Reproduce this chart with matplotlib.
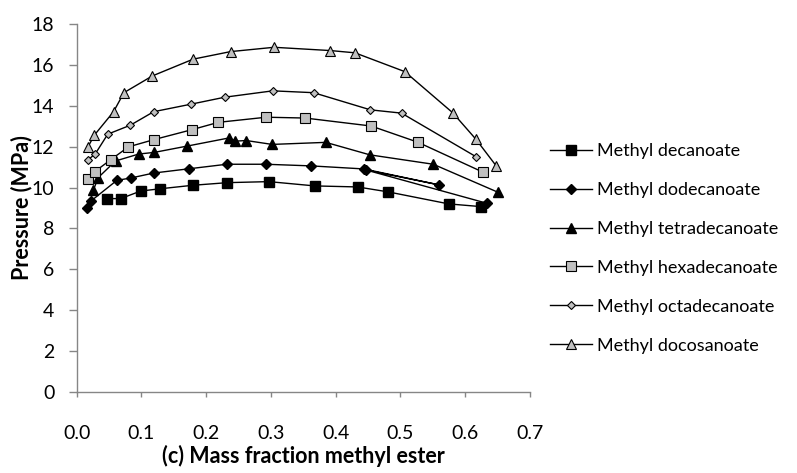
import matplotlib.pyplot as plt

plt.rcParams['font.family'] = ['Lato', 'DejaVu Sans']

# mass fraction / pressure (MPa) per ester
x_c10 = [0.047, 0.068, 0.099, 0.129, 0.179, 0.233, 0.297, 0.368, 0.434, 0.481, 0.575, 0.624]
p_c10 = [9.46, 9.46, 9.83, 9.94, 10.11, 10.24, 10.29, 10.08, 10.03, 9.79, 9.20, 9.07]

x_c12 = [0.016, 0.022, 0.062, 0.084, 0.119, 0.174, 0.232, 0.292, 0.362, 0.444, 0.560, 0.447, 0.634]
p_c12 = [9.01, 9.34, 10.35, 10.47, 10.71, 10.92, 11.14, 11.14, 11.06, 10.91, 10.13, 10.86, 9.23]

x_c14 = [0.026, 0.033, 0.060, 0.096, 0.120, 0.171, 0.236, 0.245, 0.262, 0.302, 0.385, 0.453, 0.551, 0.651]
p_c14 = [9.88, 10.48, 11.30, 11.64, 11.72, 12.03, 12.43, 12.27, 12.30, 12.11, 12.21, 11.60, 11.14, 9.77]

x_c16 = [0.018, 0.028, 0.053, 0.080, 0.120, 0.178, 0.219, 0.293, 0.353, 0.455, 0.527, 0.628]
p_c16 = [10.41, 10.78, 11.37, 11.99, 12.35, 12.83, 13.19, 13.44, 13.40, 13.01, 12.22, 10.75]

x_c18 = [0.0175, 0.029, 0.048, 0.083, 0.119, 0.177, 0.229, 0.303, 0.366, 0.454, 0.502, 0.617]
p_c18 = [11.35, 11.66, 12.61, 13.05, 13.71, 14.08, 14.42, 14.73, 14.64, 13.80, 13.64, 11.51]

x_c22 = [0.0175, 0.0275, 0.057, 0.073, 0.117, 0.180, 0.238, 0.305, 0.392, 0.430, 0.507, 0.581, 0.617, 0.648]
p_c22 = [11.99, 12.57, 13.71, 14.64, 15.46, 16.28, 16.65, 16.86, 16.70, 16.59, 15.67, 13.66, 12.36, 11.07]

gray = '#C0C0C0'

fig = plt.figure(figsize=(7.97, 4.73), dpi=100)
ax = fig.add_axes([0.0962, 0.1712, 0.5684, 0.7781])

ax.plot(x_c10, p_c10, color='black', lw=1, marker='s', ms=6.5, mfc='black', mec='black', label='Methyl decanoate')
ax.plot(x_c12, p_c12, color='black', lw=1, marker='D', ms=5.3, mfc='black', mec='black', label='Methyl dodecanoate')
ax.plot(x_c14, p_c14, color='black', lw=1, marker='^', ms=7.5, mfc='black', mec='black', label='Methyl tetradecanoate')
ax.plot(x_c16, p_c16, color='black', lw=1, marker='s', ms=7, mfc=gray, mec='black', mew=0.8, label='Methyl hexadecanoate')
ax.plot(x_c18, p_c18, color='black', lw=1, marker='D', ms=4.3, mfc=gray, mec='black', mew=0.8, label='Methyl octadecanoate')
ax.plot(x_c22, p_c22, color='black', lw=1, marker='^', ms=7.5, mfc=gray, mec='black', mew=0.8, label='Methyl docosanoate')

ax.set_xlim(0, 0.7)
ax.set_ylim(0, 18)
ax.set_xticks([0.0, 0.1, 0.2, 0.3, 0.4, 0.5, 0.6, 0.7])
ax.set_xticklabels(['0.0', '0.1', '0.2', '0.3', '0.4', '0.5', '0.6', '0.7'])
ax.set_yticks(range(0, 19, 2))

for s in ['top', 'right']:
    ax.spines[s].set_visible(False)
for s in ['left', 'bottom']:
    ax.spines[s].set_color('#868686')
    ax.spines[s].set_linewidth(1)
ax.tick_params(axis='both', colors='#868686', labelcolor='black', labelsize=14, width=1)
ax.tick_params(axis='x', length=3.8, pad=20)
ax.tick_params(axis='y', length=6, pad=10)

# axis titles placed as figure text
fig.text(303 / 797, 1 - 456 / 473, '(c) Mass fraction methyl ester', fontsize=15.5,
         fontweight='bold', ha='center', va='center')
fig.text(22 / 797, 1 - 208 / 473, 'Pressure (MPa)', fontsize=15.5, fontweight='bold',
         rotation=90, ha='center', va='center')

fig.legend(loc='upper left', bbox_to_anchor=(550 / 797, 1 - 143 / 473), frameon=False,
           borderpad=0, borderaxespad=0, fontsize=13, handlelength=2.3,
           labelspacing=1.27, handletextpad=0.28)

fig.savefig('out.png', dpi=100)
